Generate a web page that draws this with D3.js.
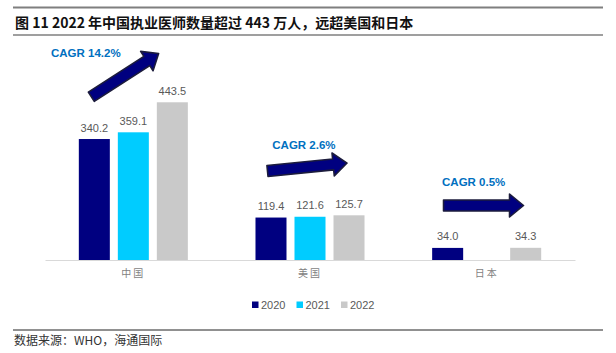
<!DOCTYPE html>
<html>
<head>
<meta charset="utf-8">
<script src="https://cdn.jsdelivr.net/npm/d3@7/dist/d3.min.js"></script>
<style>
  html, body { margin: 0; padding: 0; background: #fff; }
  svg { display: block; }
</style>
</head>
<body>
<script>
// ---- data ----
const categories = ["中国", "美国", "日本"];
const years = ["2020", "2021", "2022"];
const values2020 = [340.2, 119.4, 34.0];
const values2021 = [359.1, 121.6, null];
const values2022 = [443.5, 125.7, 34.3];
const cagrLabels = ["CAGR 14.2%", "CAGR 2.6%", "CAGR 0.5%"];
const seriesColors = ["#000080", "#00CCFF", "#C9C9C9"];
const titleText = "图 11 2022 年中国执业医师数量超过 443 万人，远超美国和日本";
const sourceText = "数据来源：WHO，海通国际";

const seriesValues = [values2020, values2021, values2022];

const W = 616, H = 353;
const svg = d3.select("body").append("svg").attr("width", W).attr("height", H);

// header
svg.append("line").attr("x1", 13).attr("x2", 603).attr("y1", 7.5).attr("y2", 7.5)
  .attr("stroke", "#7f7f7f").attr("stroke-width", 2);
svg.append("text").attr("x", 15).attr("y", 27.5)
  .attr("font-family", "'Noto Sans CJK SC', 'Noto Sans', sans-serif")
  .attr("font-weight", "bold").attr("font-size", 14).attr("fill", "#111")
  .text(titleText);
svg.append("line").attr("x1", 13).attr("x2", 603).attr("y1", 35).attr("y2", 35)
  .attr("stroke", "#7f7f7f").attr("stroke-width", 1.5);

// scales
const x0 = d3.scaleBand().domain(categories).range([45, 575]).padding(0);
const x1 = d3.scaleBand().domain(years).range([0, x0.bandwidth()])
  .paddingInner(0.205).paddingOuter(0.867);
const y = d3.scaleLinear().domain([0, 500]).range([260, 82.2]);

// axis
const xAxis = svg.append("g").attr("transform", "translate(0,260)")
  .call(d3.axisBottom(x0).tickSize(0).tickPadding(10));
xAxis.select(".domain").attr("stroke", "#d9d9d9").attr("stroke-width", 1);
xAxis.selectAll("text")
  .attr("font-family", "'Noto Sans CJK SC', sans-serif")
  .attr("font-size", 10).attr("fill", "#7f7f7f").attr("letter-spacing", 2)
  .attr("dy", "0.71em");

// bars
const barData = [];
categories.forEach((c, ci) => {
  years.forEach((yr, si) => {
    const v = seriesValues[si][ci];
    if (v !== null && v !== undefined) barData.push({ c, yr, si, v });
  });
});

svg.append("g").selectAll("rect").data(barData).join("rect")
  .attr("x", d => x0(d.c) + x1(d.yr))
  .attr("y", d => y(d.v))
  .attr("width", x1.bandwidth())
  .attr("height", d => y(0) - y(d.v))
  .attr("fill", d => seriesColors[d.si]);

svg.append("g").selectAll("text").data(barData).join("text")
  .attr("x", d => x0(d.c) + x1(d.yr) + x1.bandwidth() / 2)
  .attr("y", d => y(d.v) - 7.5)
  .attr("text-anchor", "middle")
  .attr("font-family", "'Liberation Sans', Arial, sans-serif")
  .attr("font-size", 11).attr("fill", "#595959")
  .text(d => d.v.toFixed(1));

// CAGR arrows (annotations positioned relative to each category band)
const arrowSpecs = [
  { dx: 46.3, ty: 96.7, angle: -32.7, tx: 6, tyText: 52.7 },
  { dx: 45.8, ty: 171, angle: -5.7, tx: 50.6, tyText: 145 },
  { dx: 45.2, ty: 205.5, angle: 0, tx: 43.7, tyText: 181.7 }
];
function arrowPath(len, shaft, headW, headL) {
  const s = shaft / 2, h = headW / 2, b = len - headL;
  return `M0,${-s}L${b},${-s}L${b},${-h}L${len},0L${b},${h}L${b},${s}L0,${s}Z`;
}
categories.forEach((c, i) => {
  const sp = arrowSpecs[i];
  const bx = x0(c);
  svg.append("path")
    .attr("d", arrowPath(80, 11, 23, 14))
    .attr("transform", `translate(${bx + sp.dx},${sp.ty}) rotate(${sp.angle})`)
    .attr("fill", "#000080").attr("stroke", "#1c1c3c").attr("stroke-width", 1.6)
    .attr("stroke-linejoin", "round");
  svg.append("text")
    .attr("x", bx + sp.tx).attr("y", sp.tyText).attr("dy", "0.35em")
    .attr("font-family", "'Liberation Sans', Arial, sans-serif")
    .attr("font-weight", "bold").attr("font-size", 11.5).attr("fill", "#0070C0")
    .text(cagrLabels[i]);
});

// legend
const legend = svg.append("g").attr("transform", "translate(252,305)");
const li = legend.selectAll("g").data(years).join("g")
  .attr("transform", (d, i) => `translate(${i * 44.5},0)`);
li.append("rect").attr("x", 0).attr("y", -3.5).attr("width", 6.5).attr("height", 6.5)
  .attr("fill", (d, i) => seriesColors[i]);
li.append("text").attr("x", 9).attr("y", 0).attr("dy", "0.36em")
  .attr("font-family", "'Liberation Sans', Arial, sans-serif")
  .attr("font-size", 11).attr("fill", "#595959").text(d => d);

// footer
svg.append("line").attr("x1", 13).attr("x2", 603).attr("y1", 330).attr("y2", 330)
  .attr("stroke", "#222").attr("stroke-width", 1);
svg.append("text").attr("x", 14).attr("y", 341).attr("dy", "0.36em")
  .attr("font-family", "'Noto Sans CJK SC', sans-serif")
  .attr("font-size", 12).attr("fill", "#333")
  .text(sourceText);
</script>
</body>
</html>
